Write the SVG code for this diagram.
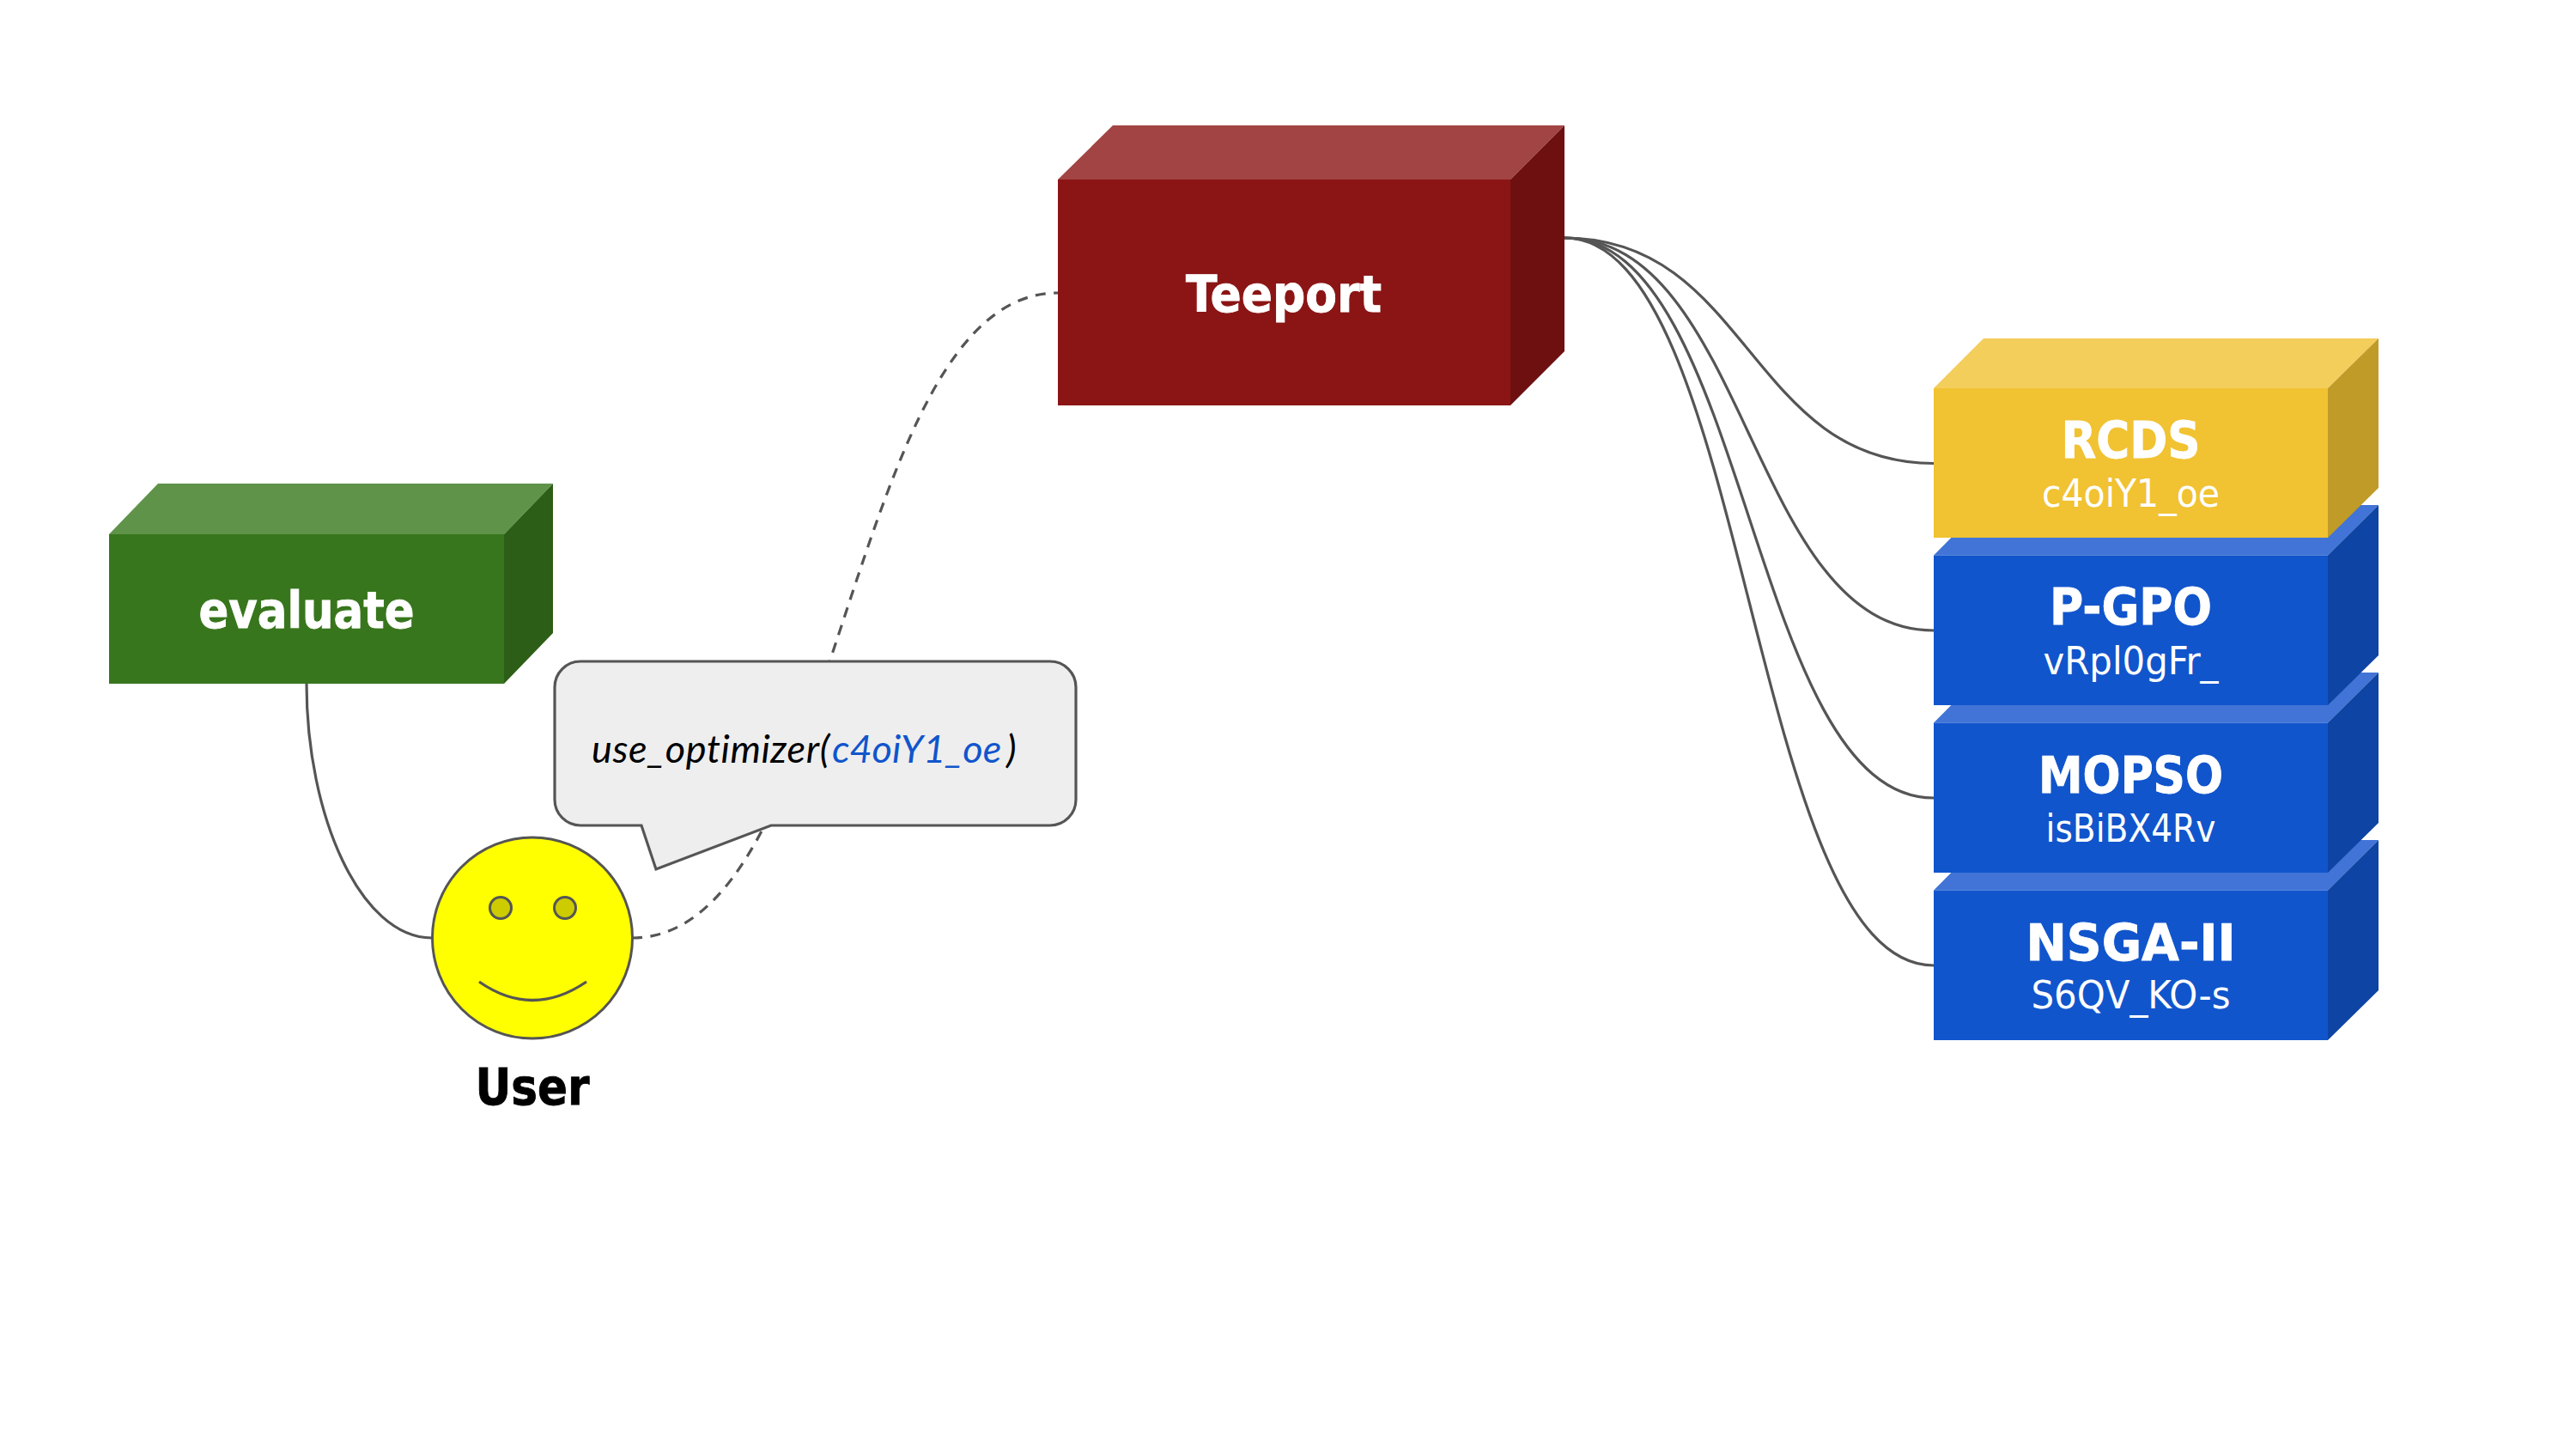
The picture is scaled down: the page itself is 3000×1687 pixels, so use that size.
<svg xmlns="http://www.w3.org/2000/svg" width="3000" height="1687" viewBox="0 0 3000 1687">
<style>
.lb{font-family:"DejaVu Sans",sans-serif;font-stretch:condensed;font-weight:700;font-size:58px;fill:#fff;stroke:#fff;stroke-width:.8;text-anchor:middle}
.sb{font-family:"DejaVu Sans",sans-serif;font-stretch:condensed;font-size:44px;fill:#fff;text-anchor:middle}
.c{fill:none;stroke:#555;stroke-width:3.200}
.d{stroke-dasharray:12 9.500}
.blue .f{fill:#1155cc}.blue .t{fill:#4174d6}.blue .r{fill:#0e44a3}
.yel .f{fill:#f1c232}.yel .t{fill:#f4ce5b}.yel .r{fill:#c19b28}
</style>
<rect width="3000" height="1687" fill="#fff"/>
<g id="connectors">
<path class="c" d="M357 796C357 950 420 1092 503 1092"/>
<path class="c d" d="M736 1092C984 1092 984 341 1232 341"/>
<path class="c" d="M1822 277C2037 277 2037 539.500 2252 539.500"/>
<path class="c" d="M1822 277C2037 277 2037 734 2252 734"/>
<path class="c" d="M1822 277C2037 277 2037 929 2252 929"/>
<path class="c" d="M1822 277C2037 277 2037 1124 2252 1124"/>
</g>
<g id="evaluate">
<polygon points="127,622 184,563 644,563 587,622" fill="#60934a"/>
<polygon points="587,622 644,563 644,737 587,796" fill="#2d5e17"/>
<rect x="127" y="622" width="460" height="174" fill="#38761d"/>
<text class="lb" x="357" y="731" textLength="251" lengthAdjust="spacingAndGlyphs">evaluate</text>
</g>
<g id="teeport">
<polygon points="1232,209 1296,146 1822,146 1759,209" fill="#a24444"/>
<polygon points="1759,209 1822,146 1822,409 1759,472" fill="#6f1010"/>
<rect x="1232" y="209" width="527" height="263" fill="#8b1515"/>
<text class="lb" x="1495" y="363" textLength="228" lengthAdjust="spacingAndGlyphs">Teeport</text>
</g>
<g id="nsga" class="blue">
<polygon class="t" points="2252,1036.500 2310,978 2770,978 2711,1036.500"/>
<polygon class="r" points="2711,1036.500 2770,978 2770,1153 2711,1211"/>
<rect class="f" x="2252" y="1036.500" width="459" height="174.500"/>
<text class="lb" x="2481.500" y="1117.500" textLength="244" lengthAdjust="spacingAndGlyphs">NSGA-II</text>
<text class="sb" x="2481.500" y="1174" textLength="232" lengthAdjust="spacingAndGlyphs">S6QV_KO-s</text>
</g>
<g id="mopso" class="blue">
<polygon class="t" points="2252,841.500 2310,783 2770,783 2711,841.500"/>
<polygon class="r" points="2711,841.500 2770,783 2770,958 2711,1016"/>
<rect class="f" x="2252" y="841.500" width="459" height="174.500"/>
<text class="lb" x="2481.500" y="922.500" textLength="215" lengthAdjust="spacingAndGlyphs">MOPSO</text>
<text class="sb" x="2481.500" y="979.500" textLength="198" lengthAdjust="spacingAndGlyphs">isBiBX4Rv</text>
</g>
<g id="pgpo" class="blue">
<polygon class="t" points="2252,646.500 2310,588 2770,588 2711,646.500"/>
<polygon class="r" points="2711,646.500 2770,588 2770,763 2711,821"/>
<rect class="f" x="2252" y="646.500" width="459" height="174.500"/>
<text class="lb" x="2481.500" y="727" textLength="189" lengthAdjust="spacingAndGlyphs">P-GPO</text>
<text class="sb" x="2481.500" y="784.500" textLength="204" lengthAdjust="spacingAndGlyphs">vRpl0gFr_</text>
</g>
<g id="rcds" class="yel">
<polygon class="t" points="2252,452 2310,394 2770,394 2711,452"/>
<polygon class="r" points="2711,452 2770,394 2770,568 2711,626"/>
<rect class="f" x="2252" y="452" width="459" height="174"/>
<text class="lb" x="2481.500" y="532.500" textLength="162" lengthAdjust="spacingAndGlyphs">RCDS</text>
<text class="sb" x="2481.500" y="589.500" textLength="207" lengthAdjust="spacingAndGlyphs">c4oiY1_oe</text>
</g>
<g id="user">
<ellipse cx="620" cy="1092" rx="116.500" ry="117" fill="#ff0" stroke="#555" stroke-width="3"/>
<circle cx="583" cy="1057" r="12.500" fill="#cc0" stroke="#555" stroke-width="3"/>
<circle cx="658" cy="1057" r="12.500" fill="#cc0" stroke="#555" stroke-width="3"/>
<path class="c" d="M558 1143Q620 1186 683 1143"/>
<text x="620" y="1286" textLength="133" lengthAdjust="spacingAndGlyphs" style="font-family:'DejaVu Sans',sans-serif;font-stretch:condensed;font-weight:700;font-size:58px;fill:#000;stroke:#000;stroke-width:.8;text-anchor:middle">User</text>
</g>
<g id="bubble">
<path d="M676 770H1223A30 30 0 0 1 1253 800V931A30 30 0 0 1 1223 961H898L764 1012L747 961H676A30 30 0 0 1 646 931V800A30 30 0 0 1 676 770Z" fill="#eee" stroke="#555" stroke-width="3.200"/>
<text y="888" style="font-family:Lato,sans-serif;font-style:italic;font-size:45px;fill:#000"><tspan x="689" letter-spacing=".6">use_optimizer(</tspan><tspan x="969" fill="#1155cc">c4oiY1_oe</tspan><tspan x="1172">)</tspan></text>
</g>
</svg>
